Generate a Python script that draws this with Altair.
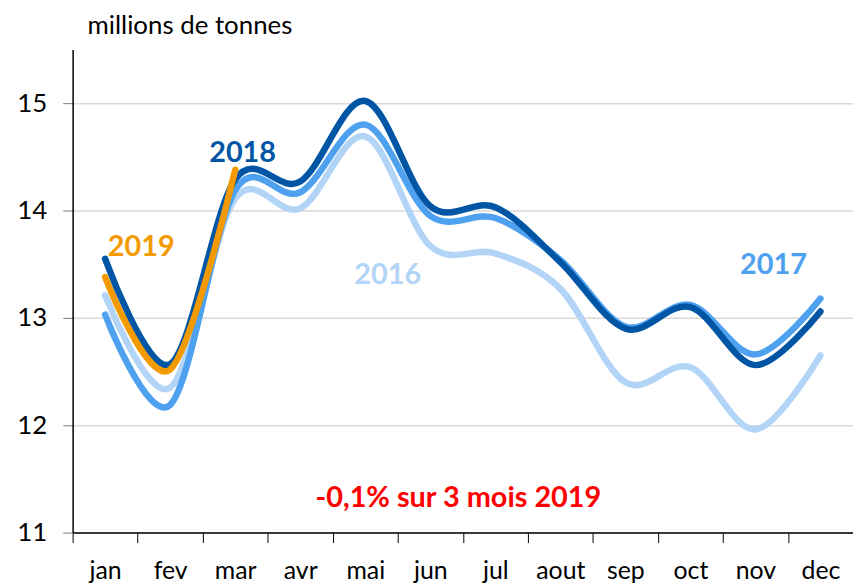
import altair as alt
import pandas as pd

months = ["jan", "fev", "mar", "avr", "mai", "jun", "jul", "aout", "sep", "oct", "nov", "dec"]
v2016 = [13.21, 12.35, 14.11, 14.02, 14.69, 13.67, 13.60, 13.27, 12.40, 12.54, 11.96, 12.65]
v2017 = [13.03, 12.19, 14.19, 14.17, 14.80, 13.95, 13.93, 13.54, 12.92, 13.12, 12.66, 13.18]
v2018 = [13.55, 12.57, 14.29, 14.27, 15.02, 14.04, 14.03, 13.52, 12.90, 13.10, 12.56, 13.06]
v2019 = [13.38, 12.52, 14.38]

series = {"2016": v2016, "2017": v2017, "2018": v2018, "2019": v2019}
colors = {"2016": "#B2D4F6", "2017": "#4EA1EE", "2018": "#0056A5", "2019": "#F39A00"}
order = ["2016", "2017", "2018", "2019"]

rows = []
for k in order:
    for m, v in zip(months, series[k]):
        rows.append({"month": m, "value": v, "year": k, "ord": order.index(k)})
df = pd.DataFrame(rows)

ann_text = ["2018", "2019", "2016", "2017", "-0,1% sur 3 mois 2019"]
ann_color = ["#0056A5", "#F39A00", "#B2D4F6", "#4EA1EE", "#FF0000"]
ann_x = [171, 69, 317, 705, 388]
ann_y = [104, 199, 227, 217, 451]
ann_size = [29, 29, 29, 29, 29]
ann = pd.DataFrame({"t": ann_text, "c": ann_color, "x": ann_x, "y": ann_y, "s": ann_size})

FONT = "Lato"

base = alt.Chart(df)
lines = base.mark_line(interpolate="cardinal", strokeWidth=6.5, strokeCap="round", strokeJoin="round").encode(
    x=alt.X("month:N", sort=months, bandPosition=0.5,
            scale=alt.Scale(type="band", domain=months, paddingInner=0, paddingOuter=0),
            axis=alt.Axis(title=None, tickBand="extent", grid=False, labelAngle=0, tickSize=10,
                          tickColor="#000000", domainColor="#000000", labelFont=FONT, labelFontSize=25,
                          labelColor="#000000", labelPadding=16)),
    y=alt.Y("value:Q", scale=alt.Scale(domain=[11, 15.5], nice=False, zero=False),
            axis=alt.Axis(title=None, values=[11, 12, 13, 14, 15], tickSize=10, tickColor="#7f7f7f",
                          domainColor="#000000", gridColor="#D9D9D9", gridWidth=1.5,
                          labelFont=FONT, labelFontSize=26, labelColor="#000000", labelPadding=16)),
    color=alt.Color("year:N", scale=alt.Scale(domain=order, range=[colors[k] for k in order]), legend=None),
    order=alt.Order("ord:Q"),
)

texts = alt.Chart(ann).mark_text(font=FONT, fontWeight="bold", align="center", baseline="middle").encode(
    x=alt.X("x:Q", scale=None), y=alt.Y("y:Q", scale=None),
    text="t:N", color=alt.Color("c:N", scale=None), size=alt.Size("s:Q", scale=None),
)

unit = alt.Chart(pd.DataFrame({"t": ["millions de tonnes"]})).mark_text(
    font=FONT, fontSize=26, align="left", baseline="middle", color="#000000"
).encode(x=alt.value(15), y=alt.value(-24), text="t:N")

chart = alt.layer(lines, texts, unit).properties(
    width=785, height=486,
    autosize=alt.AutoSizeParams(type="none"),
    padding={"left": 65, "top": 40, "right": 0, "bottom": 51},
).configure_view(stroke=None).configure_axis(domainWidth=1.5)

chart.save("out.html", embed_options={"renderer": "svg", "actions": False})
